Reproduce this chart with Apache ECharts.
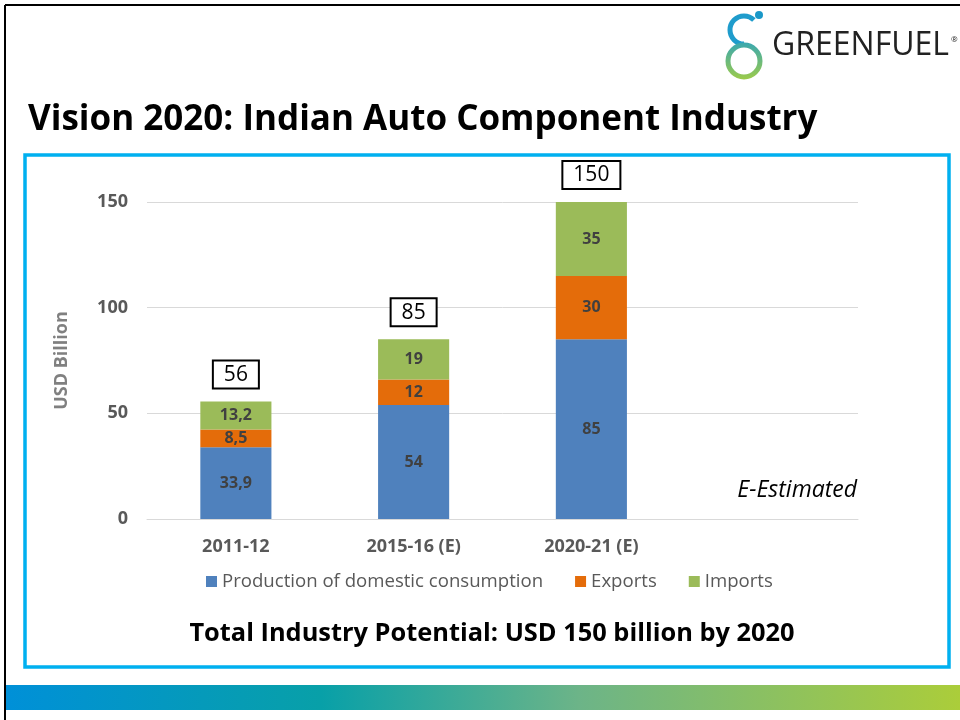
<!DOCTYPE html>
<html><head><meta charset="utf-8">
<script src="https://cdn.jsdelivr.net/npm/echarts@6/dist/echarts.min.js"></script>
<style>html,body{margin:0;padding:0;background:#fff}#c{width:960px;height:720px}</style>
</head><body><div id="c"></div>
<script>
const categories = ['2011-12', '2015-16 (E)', '2020-21 (E)', ''];
const production = [33.9, 54, 85, null];
const exportsData = [8.5, 12, 30, null];
const imports = [13.2, 19, 35, null];
const totals = [56, 85, 150, null];
const seriesNames = ['Production of domestic consumption', 'Exports', 'Imports'];
const yTicks = [0, 50, 100, 150];

const FONT = '"Open Sans", "Noto Sans", sans-serif';
const fmtNum = v => String(v).replace('.', ',');
const inner = {show: true, position: 'inside', color: '#404040', fontWeight: 'bold', fontSize: 16, fontFamily: FONT,
  formatter: p => p.value == null ? '' : fmtNum(p.value)};

const chart = echarts.init(document.getElementById('c'));
chart.setOption({
  animation: false,
  textStyle: {fontFamily: FONT},
  grid: {left: 147, right: 102, top: 202, bottom: 201},
  legend: {
    data: seriesNames, left: 201, top: 567, icon: 'rect', itemWidth: 11, itemHeight: 11, itemGap: 32,
    textStyle: {color: '#595959', fontSize: 18.6, fontFamily: FONT}
  },
  xAxis: {
    type: 'category', data: categories,
    axisLine: {lineStyle: {color: '#d9d9d9'}}, axisTick: {show: false},
    axisLabel: {color: '#595959', fontWeight: 'bold', fontSize: 18, margin: 19}
  },
  yAxis: {
    type: 'value', min: 0, max: 150, interval: 50,
    name: 'USD Billion', nameLocation: 'middle', nameGap: 76,
    nameTextStyle: {color: '#808080', fontWeight: 'bold', fontSize: 18},
    axisLine: {show: false}, axisTick: {show: false},
    splitLine: {lineStyle: {color: '#d9d9d9'}},
    axisLabel: {color: '#595959', fontWeight: 'bold', fontSize: 18, margin: 19,
      formatter: v => yTicks.includes(v) ? String(v) : ''}
  },
  series: [
    {name: seriesNames[0], type: 'bar', stack: 's', data: production, barWidth: '40%', itemStyle: {color: '#4f81bd'}, label: inner},
    {name: seriesNames[1], type: 'bar', stack: 's', data: exportsData, itemStyle: {color: '#e46c0a'}, label: inner},
    {name: seriesNames[2], type: 'bar', stack: 's', data: imports, itemStyle: {color: '#9bbb59'}, label: inner},
    {name: 'total', type: 'bar', stack: 's', data: totals.map(t => t == null ? null : 0), itemStyle: {color: 'transparent'},
      label: {show: true, position: 'top', distance: 14, formatter: p => totals[p.dataIndex] == null ? '' : String(totals[p.dataIndex]),
        color: '#000', fontSize: 21, backgroundColor: '#fff', borderColor: '#000', borderWidth: 2,
        padding: [3, 10, 2, 10]}}
  ],
  graphic: [
    {type: 'rect', shape: {x: 0, y: 0, width: 960, height: 720}, style: {fill: '#fff'}, z: -10},
    {type: 'line', shape: {x1: 5, y1: 5, x2: 960, y2: 5}, style: {stroke: '#000', lineWidth: 2}},
    {type: 'line', shape: {x1: 5, y1: 5, x2: 5, y2: 720}, style: {stroke: '#000', lineWidth: 2}},
    {type: 'rect', shape: {x: 25, y: 155, width: 924, height: 512}, style: {fill: 'none', stroke: '#00b0f0', lineWidth: 3.5}, z: -1},
    {type: 'text', x: 28, y: 120, style: {text: 'Vision 2020: Indian Auto Component Industry', font: 'bold 35px ' + FONT, fill: '#000', verticalAlign: 'middle'}},
    {type: 'text', x: 857, y: 490, style: {text: 'E-Estimated', font: 'italic 23px ' + FONT, fill: '#000', align: 'right', verticalAlign: 'middle'}},
    {type: 'text', x: 492, y: 634, style: {text: 'Total Industry Potential: USD 150 billion by 2020', font: 'bold 25.4px ' + FONT, fill: '#000', align: 'center', verticalAlign: 'middle'}},
    {type: 'rect', shape: {x: 6, y: 685, width: 954, height: 25}, style: {fill: new echarts.graphic.LinearGradient(0, 0, 1, 0, [
      {offset: 0, color: '#0090d8'}, {offset: 0.33, color: '#08a0a8'}, {offset: 0.6, color: '#6cb488'}, {offset: 1, color: '#abcd3a'}])}},
    // logo
    {type: 'arc', shape: {cx: 744, cy: 30, r: 14, startAngle: -Math.PI / 4, endAngle: -Math.PI * 1.5, clockwise: false}, style: {fill: 'none', lineWidth: 5, stroke: '#1f9ccc'}},
    {type: 'circle', shape: {cx: 744, cy: 61, r: 16}, style: {fill: 'none', lineWidth: 5, stroke: new echarts.graphic.LinearGradient(0, 0, 0, 1, [{offset: 0, color: '#3aa8b0'}, {offset: 1, color: '#9ccb4a'}])}},
    {type: 'circle', shape: {cx: 759, cy: 15, r: 4}, style: {fill: '#1a98c8'}},
    {type: 'text', x: 772, y: 46, style: {text: 'GREENFUEL', font: '32px ' + FONT, fill: '#222', verticalAlign: 'middle'}},
    {type: 'text', x: 951, y: 40, style: {text: '®', font: '8px ' + FONT, fill: '#222', verticalAlign: 'middle'}}
  ]
});
</script></body></html>
